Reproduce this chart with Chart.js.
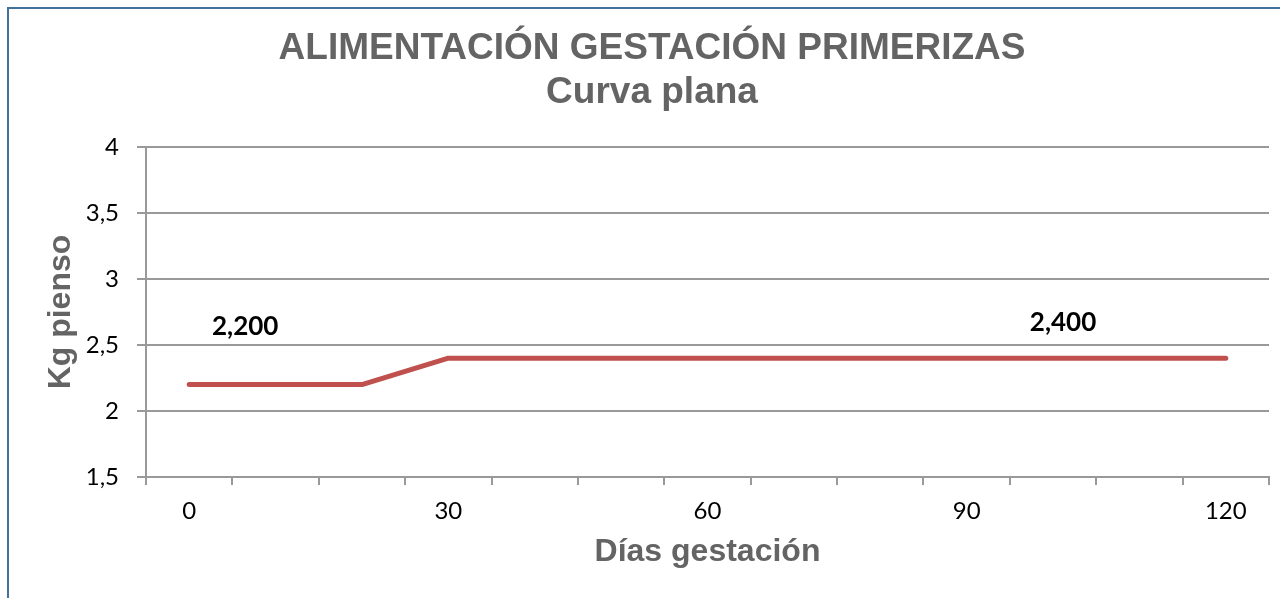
<!DOCTYPE html>
<html>
<head>
<meta charset="utf-8">
<script src="https://cdn.jsdelivr.net/npm/chart.js@4/dist/chart.umd.min.js"></script>
<style>
  body { margin: 0; background: #fff; overflow: hidden; }
  #frame { position: absolute; left: 7px; top: 7px; width: 1400px; height: 700px;
           border-left: 2px solid #41719c; border-top: 2px solid #41719c; }
  #myChart { position: absolute; left: 0; top: 0; }
</style>
</head>
<body>
<div id="frame"></div>
<canvas id="myChart" width="1280" height="598"></canvas>
<script>
// dias de gestacion (categorias)
const dias = ['0', '10', '20', '30', '40', '50', '60', '70', '80', '90', '100', '110', '120']
// kg de pienso por dia
const kgPienso = [2.2, 2.2, 2.2, 2.4, 2.4, 2.4, 2.4, 2.4, 2.4, 2.4, 2.4, 2.4, 2.4]
// puntos que llevan etiqueta
const etiquetas = [0, 10]

const titulo = ['ALIMENTACIÓN GESTACIÓN PRIMERIZAS', 'Curva plana']
const gris = '#999999'
const grisTexto = '#646464'

// etiquetas de datos movidas a mano como en la hoja
const desplaz = { 0: [56, -58], 10: [10, -36] }

const dataLabels = {
    id: 'dataLabels',
    afterDatasetsDraw(chart) {
        const ctx = chart.ctx
        const meta = chart.getDatasetMeta(0)
        ctx.save()
        ctx.font = 'bold 26px Lato'
        ctx.fillStyle = '#000'
        ctx.textAlign = 'center'
        ctx.textBaseline = 'middle'
        etiquetas.forEach(i => {
            const p = meta.data[i]
            const d = desplaz[i]
            const txt = kgPienso[i].toFixed(3).replace('.', ',')
            ctx.fillText(txt, p.x + d[0], p.y + d[1])
        })
        ctx.restore()
    }
}

const ctx = document.getElementById('myChart')

new Chart(ctx, {
    type: 'line',
    data: {
        labels: dias,
        datasets: [{
            data: kgPienso,
            borderColor: '#c0504d',
            borderWidth: 5,
            borderCapStyle: 'round',
            borderJoinStyle: 'round',
            pointRadius: 0,
            tension: 0
        }]
    },
    options: {
        responsive: false,
        animation: false,
        layout: { padding: { left: 35, right: 11, top: 0, bottom: 0 } },
        plugins: {
            legend: { display: false },
            tooltip: { enabled: false },
            title: {
                display: true,
                text: titulo,
                color: grisTexto,
                font: { family: 'Liberation Sans', size: 37, weight: 'bold', lineHeight: 1.19 },
                padding: { top: 27, bottom: 32 }
            }
        },
        scales: {
            x: {
                offset: true,
                afterFit: s => { s.height = 121 },
                grid: { offset: true, drawOnChartArea: false, drawTicks: true, tickLength: 8, color: gris, lineWidth: 2 },
                border: { display: true, color: gris, width: 2 },
                ticks: {
                    autoSkip: false,
                    maxRotation: 0,
                    padding: 12,
                    color: '#000',
                    font: { family: 'Lato', size: 24 },
                    callback: function (v, i) { return i % 3 === 0 ? this.getLabelForValue(v) : '' }
                },
                title: {
                    display: true,
                    text: 'Días gestación',
                    color: grisTexto,
                    font: { family: 'Liberation Sans', size: 32, weight: 'bold', lineHeight: 1.2 },
                    padding: { top: 0, bottom: 27 }
                }
            },
            y: {
                min: 1.5,
                max: 4,
                afterFit: s => { s.width = 111 },
                grid: { color: gris, lineWidth: 2, tickLength: 9 },
                border: { display: true, color: gris, width: 2 },
                ticks: {
                    stepSize: 0.5,
                    padding: 18,
                    color: '#000',
                    font: { family: 'Lato', size: 24 },
                    callback: v => String(v).replace('.', ',')
                },
                title: {
                    display: true,
                    text: 'Kg pienso',
                    color: grisTexto,
                    font: { family: 'Liberation Sans', size: 32, weight: 'bold', lineHeight: 1.2 },
                    padding: { top: 7, bottom: 0 }
                }
            }
        }
    },
    plugins: [dataLabels]
})
</script>
</body>
</html>
